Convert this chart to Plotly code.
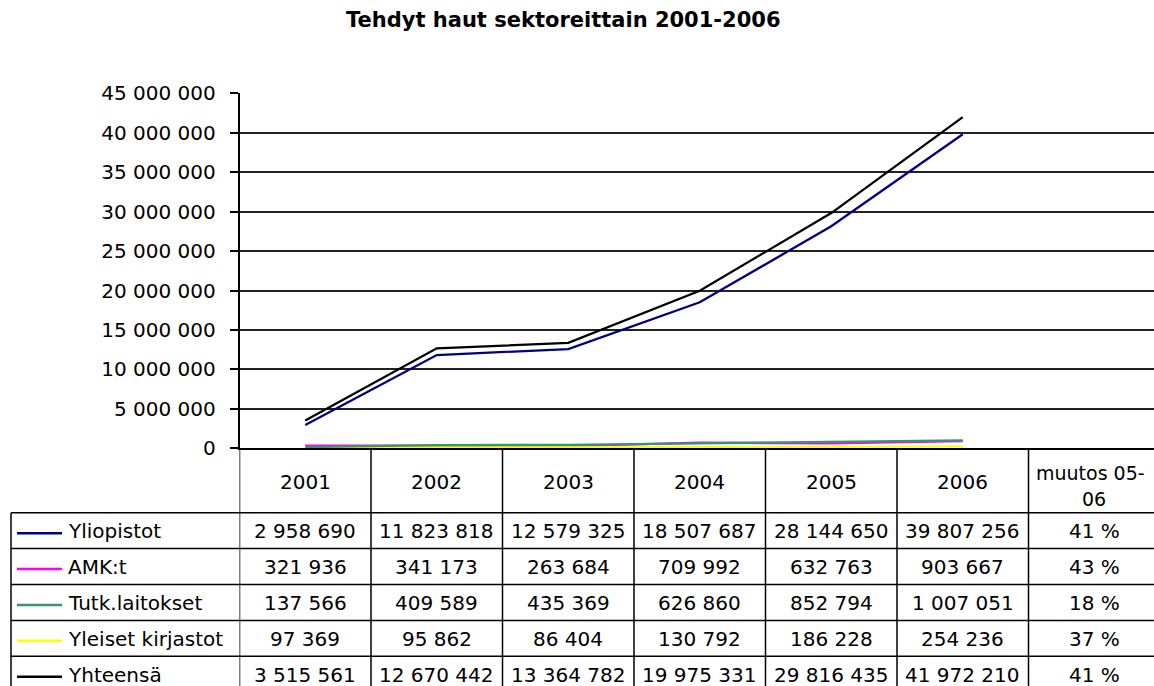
import plotly.graph_objects as go

# data
years = ["2001", "2002", "2003", "2004", "2005", "2006"]
change_head = ["muutos 05-", "06"]

series_names = ["Yliopistot", "AMK:t", "Tutk.laitokset", "Yleiset kirjastot", "Yhteensä"]
yliopistot = [2958690, 11823818, 12579325, 18507687, 28144650, 39807256]
amk = [321936, 341173, 263684, 709992, 632763, 903667]
tutk = [137566, 409589, 435369, 626860, 852794, 1007051]
yleiset = [97369, 95862, 86404, 130792, 186228, 254236]
yhteensa = [3515561, 12670442, 13364782, 19975331, 29816435, 41972210]
muutos = ["41 %", "43 %", "18 %", "37 %", "41 %"]

colors = ["#000080", "#FF00FF", "#339966", "#FFFF00", "#000000"]
values = [yliopistot, amk, tutk, yleiset, yhteensa]

W, H = 1154, 686
FONT = "DejaVu Sans"


def py(px):
    return 1 - px / H


def pxp(px):
    return px / W


x_axis_px = 448.3
top_px = 93.3
header_bottom = 512.7
row_h = 35.9
left_px = 11
col_w = 131.5

fig = go.Figure()

# draw small series first, totals on top
order = [0, 1, 3, 2, 4]
for i in order:
    fig.add_trace(
        go.Scatter(
            x=list(range(len(years))),
            y=values[i],
            mode="lines",
            name=series_names[i],
            line=dict(color=colors[i], width=2.3),
            showlegend=False,
        )
    )

shapes = []
annotations = []

# table vertical lines (column borders)
for k in range(len(years) + 1):
    shapes.append(dict(
        type="line", xref="x", yref="paper",
        x0=k - 0.5, x1=k - 0.5, y0=py(x_axis_px), y1=0,
        line=dict(color="#000", width=1.5),
    ))

# left border of the row-label column
shapes.append(dict(
    type="line", xref="paper", yref="paper",
    x0=pxp(left_px), x1=pxp(left_px), y0=py(header_bottom), y1=0,
    line=dict(color="#000", width=1.5),
))

# table horizontal lines
for r in range(len(series_names)):
    yy = header_bottom + r * row_h
    shapes.append(dict(
        type="line", xref="paper", yref="paper",
        x0=pxp(left_px), x1=1, y0=py(yy), y1=py(yy),
        line=dict(color="#000", width=1.5),
    ))

# header row
header_c = (x_axis_px + header_bottom) / 2
for k, yr in enumerate(years):
    annotations.append(dict(
        xref="x", yref="paper", x=k, y=py(header_c + 1),
        text=yr, showarrow=False, xanchor="center", yanchor="middle",
        font=dict(family=FONT, size=20, color="#000"),
    ))
annotations.append(dict(
    xref="x", yref="paper", x=len(years) - 0.5 + 5 / col_w, y=py(header_c - 8),
    text=change_head[0], showarrow=False, xanchor="left", yanchor="middle",
    font=dict(family=FONT, size=19, color="#000"),
))
annotations.append(dict(
    xref="x", yref="paper", x=len(years), y=py(header_c + 18),
    text=change_head[1], showarrow=False, xanchor="center", yanchor="middle",
    font=dict(family=FONT, size=19, color="#000"),
))


def fmt(v):
    return f"{v:,}".replace(",", " ")


# data rows
for r, name in enumerate(series_names):
    yc = header_bottom + r * row_h + row_h / 2 + 0.5
    shapes.append(dict(
        type="line", xref="paper", yref="paper",
        x0=pxp(17), x1=pxp(62), y0=py(yc + 2), y1=py(yc + 2),
        line=dict(color=colors[r], width=2.5),
    ))
    annotations.append(dict(
        xref="paper", yref="paper", x=pxp(66), y=py(yc),
        text=name, showarrow=False, xanchor="left", yanchor="middle",
        font=dict(family=FONT, size=20, color="#000"),
    ))
    for k, v in enumerate(values[r]):
        annotations.append(dict(
            xref="x", yref="paper", x=k, y=py(yc),
            text=fmt(v), showarrow=False, xanchor="center", yanchor="middle",
            font=dict(family=FONT, size=20, color="#000"),
        ))
    annotations.append(dict(
        xref="x", yref="paper", x=len(years), y=py(yc),
        text=muutos[r], showarrow=False, xanchor="center", yanchor="middle",
        font=dict(family=FONT, size=20, color="#000"),
    ))

# title
annotations.append(dict(
    xref="paper", yref="paper", x=pxp(563), y=py(20),
    text="<b>Tehdyt haut sektoreittain 2001-2006</b>", showarrow=False,
    xanchor="center", yanchor="middle",
    font=dict(family=FONT, size=21, color="#000"),
))

fig.update_layout(
    width=W,
    height=H,
    margin=dict(l=0, r=0, t=0, b=0, autoexpand=False),
    paper_bgcolor="white",
    plot_bgcolor="white",
    separators=". ",
    showlegend=False,
    shapes=shapes,
    annotations=annotations,
    xaxis=dict(
        domain=[pxp(239.5), 1],
        range=[-0.5, -0.5 + (W - 239.5) / col_w],
        showticklabels=False,
        showgrid=False,
        zeroline=False,
        showline=True,
        linecolor="#000",
        linewidth=1.5,
        ticks="",
        automargin=False,
    ),
    yaxis=dict(
        domain=[py(x_axis_px), py(top_px)],
        range=[0, 45000000],
        tickvals=list(range(0, 45000001, 5000000)),
        tickformat=",d",
        showgrid=True,
        gridcolor="#222",
        gridwidth=1.5,
        zeroline=False,
        showline=True,
        linecolor="#000",
        linewidth=1.5,
        ticks="outside",
        ticklen=8,
        tickcolor="#000",
        tickwidth=1.5,
        ticklabelstandoff=10,
        automargin=False,
        tickfont=dict(family=FONT, size=20, color="#000"),
    ),
)

fig.write_html(
    "out.html",
    config={"displayModeBar": False},
    post_script="document.body.style.margin='0';document.body.style.overflow='hidden';",
)
